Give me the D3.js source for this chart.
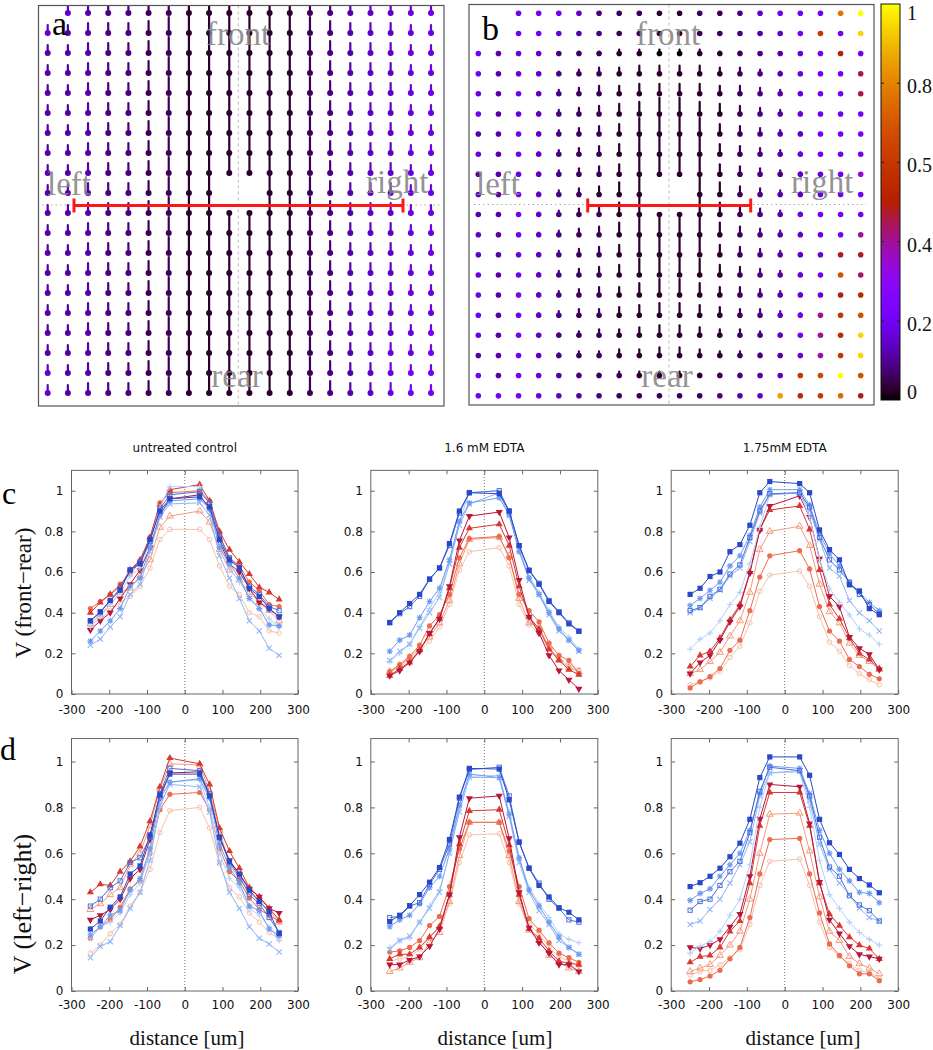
<!DOCTYPE html>
<html><head><meta charset="utf-8">
<script src="https://cdn.jsdelivr.net/npm/d3@7"></script>
<style>body{margin:0;background:#fff}svg{display:block}</style>
</head><body>
<svg id="fig" width="933" height="1050"></svg>
<script>
// ---------------- data ----------------
const xDist = [-250,-223.7,-197.4,-171.1,-144.7,-118.4,-92.1,-65.8,-39.5,39.5,65.8,92.1,118.4,144.7,171.1,197.4,223.7,250];
const xTicks = [-300,-200,-100,0,100,200,300];
const yTicks = [0,0.2,0.4,0.6,0.8,1];
const yTickLabels = ["0","0.2","0.4","0.6","0.8","1"];
const chartTitles = ["untreated control","1.6 mM EDTA","1.75mM EDTA"];
const rowLabels = ["V (front\u2212rear)","V (left\u2212right)"];
const seriesNames = ["B1","B2","B3","B4","B5","R1","R2","R3","R4","R5"];
const seriesColors = ["#2a48c8","#4a72dc","#6e9cf0","#8fb6f6","#b4cff9","#b8163a","#d93832","#ec6c50","#f29c80","#f6c2ae"];
const seriesMarkers = ["sqF","sqO","star","x","plus","triDF","triF","cirF","triO","cirO"];

const controlFR = [
 [0.36,0.405,0.46,0.51,0.61,0.64,0.76,0.90,0.96, 0.97,0.92,0.76,0.66,0.62,0.52,0.48,0.42,0.38],
 [0.36,0.40,0.46,0.52,0.61,0.65,0.75,0.91,0.98, 0.995,0.94,0.78,0.67,0.62,0.53,0.49,0.43,0.41],
 [0.26,0.31,0.36,0.42,0.53,0.57,0.72,0.88,0.95, 0.96,0.91,0.72,0.64,0.57,0.47,0.42,0.34,0.335],
 [0.24,0.27,0.33,0.38,0.49,0.54,0.70,0.87,0.935, 0.94,0.88,0.68,0.57,0.47,0.36,0.31,0.225,0.19],
 [0.33,0.38,0.44,0.50,0.58,0.62,0.75,0.92,1.02, 1.02,0.93,0.74,0.62,0.55,0.48,0.42,0.37,0.33],
 [0.315,0.36,0.40,0.47,0.54,0.61,0.72,0.88,0.96, 0.98,0.91,0.75,0.64,0.60,0.52,0.45,0.42,0.38],
 [0.40,0.45,0.49,0.53,0.61,0.66,0.77,0.93,1.005, 1.03,0.95,0.80,0.71,0.65,0.59,0.525,0.50,0.465],
 [0.42,0.455,0.49,0.54,0.59,0.65,0.77,0.94,0.99, 1.0,0.95,0.78,0.67,0.63,0.55,0.51,0.44,0.43],
 [0.345,0.39,0.44,0.50,0.52,0.58,0.66,0.82,0.875, 0.90,0.845,0.71,0.61,0.56,0.50,0.45,0.41,0.36],
 [0.34,0.37,0.41,0.45,0.48,0.53,0.62,0.76,0.81, 0.81,0.76,0.63,0.53,0.49,0.40,0.38,0.31,0.30]
];
const edta16FR = [
 [0.352,0.40,0.445,0.49,0.565,0.62,0.74,0.90,0.99, 0.985,0.90,0.73,0.607,0.54,0.455,0.40,0.345,0.308],
 [0.35,0.395,0.43,0.48,0.565,0.62,0.73,0.89,0.99, 1.0,0.90,0.73,0.61,0.545,0.46,0.405,0.35,0.31],
 [0.21,0.265,0.29,0.375,0.455,0.52,0.66,0.85,0.94, 0.965,0.88,0.70,0.57,0.49,0.40,0.32,0.265,0.215],
 [0.165,0.21,0.245,0.325,0.40,0.475,0.64,0.83,0.935, 0.99,0.88,0.71,0.56,0.49,0.39,0.31,0.265,0.21],
 [0.16,0.20,0.245,0.33,0.42,0.50,0.65,0.85,0.99, 1.0,0.90,0.72,0.58,0.50,0.41,0.33,0.28,0.22],
 [0.09,0.115,0.155,0.21,0.30,0.37,0.53,0.755,0.875, 0.895,0.77,0.56,0.38,0.30,0.19,0.115,0.07,0.025],
 [0.09,0.125,0.155,0.215,0.295,0.37,0.52,0.72,0.815, 0.835,0.73,0.53,0.38,0.32,0.22,0.165,0.12,0.095],
 [0.11,0.145,0.185,0.24,0.335,0.39,0.49,0.67,0.765, 0.775,0.67,0.49,0.41,0.355,0.25,0.19,0.165,0.10],
 [0.11,0.14,0.18,0.22,0.28,0.35,0.46,0.64,0.76, 0.77,0.68,0.47,0.35,0.33,0.23,0.17,0.13,0.11],
 [0.11,0.13,0.17,0.21,0.26,0.33,0.44,0.61,0.70, 0.72,0.63,0.44,0.34,0.30,0.22,0.18,0.14,0.12]
];
const edta175FR = [
 [0.49,0.52,0.578,0.60,0.70,0.735,0.83,0.99,1.045, 1.035,0.99,0.807,0.71,0.66,0.537,0.507,0.42,0.39],
 [0.41,0.425,0.48,0.515,0.59,0.635,0.77,0.90,0.985, 0.99,0.92,0.77,0.66,0.61,0.55,0.49,0.44,0.395],
 [0.435,0.47,0.51,0.55,0.63,0.68,0.78,0.92,1.005, 1.005,0.93,0.79,0.69,0.63,0.55,0.50,0.45,0.41],
 [0.40,0.425,0.47,0.51,0.58,0.62,0.75,0.89,0.98, 0.99,0.90,0.76,0.62,0.58,0.46,0.40,0.36,0.31],
 [0.22,0.27,0.30,0.36,0.44,0.50,0.64,0.82,0.98, 0.99,0.87,0.66,0.52,0.45,0.39,0.32,0.29,0.245],
 [0.10,0.155,0.19,0.265,0.355,0.43,0.595,0.805,0.925, 0.975,0.87,0.665,0.48,0.43,0.28,0.225,0.195,0.12],
 [0.135,0.19,0.21,0.275,0.365,0.44,0.60,0.81,0.905, 0.925,0.81,0.61,0.44,0.37,0.275,0.20,0.17,0.125],
 [0.03,0.06,0.085,0.125,0.215,0.265,0.41,0.575,0.68, 0.705,0.615,0.43,0.31,0.26,0.17,0.135,0.097,0.075],
 [0.10,0.12,0.16,0.205,0.285,0.36,0.50,0.71,0.80, 0.825,0.73,0.54,0.405,0.35,0.25,0.19,0.16,0.12],
 [0.045,0.06,0.08,0.11,0.18,0.235,0.35,0.505,0.585, 0.605,0.53,0.38,0.255,0.21,0.14,0.10,0.07,0.045]
];
const controlLR = [
 [0.27,0.305,0.365,0.41,0.51,0.545,0.68,0.855,0.945, 0.945,0.85,0.67,0.565,0.51,0.44,0.39,0.345,0.25],
 [0.37,0.40,0.45,0.48,0.56,0.58,0.67,0.86,0.97, 0.96,0.86,0.67,0.56,0.50,0.42,0.38,0.32,0.255],
 [0.245,0.28,0.33,0.35,0.44,0.49,0.62,0.84,0.91, 0.925,0.84,0.64,0.54,0.47,0.37,0.35,0.27,0.24],
 [0.145,0.195,0.215,0.285,0.36,0.43,0.57,0.81,0.90, 0.89,0.78,0.56,0.43,0.36,0.28,0.23,0.205,0.17],
 [0.23,0.28,0.30,0.34,0.42,0.47,0.60,0.80,0.91, 0.92,0.80,0.60,0.49,0.45,0.36,0.33,0.28,0.22],
 [0.31,0.33,0.355,0.40,0.49,0.53,0.66,0.84,0.95, 0.955,0.85,0.67,0.57,0.51,0.445,0.41,0.36,0.34],
 [0.43,0.465,0.46,0.52,0.565,0.63,0.74,0.89,1.015, 0.99,0.90,0.71,0.61,0.535,0.45,0.41,0.36,0.31],
 [0.23,0.28,0.31,0.365,0.445,0.48,0.60,0.79,0.857, 0.865,0.79,0.62,0.52,0.48,0.405,0.355,0.33,0.305],
 [0.355,0.38,0.42,0.45,0.55,0.60,0.72,0.88,0.99, 0.985,0.87,0.70,0.55,0.49,0.43,0.39,0.35,0.30],
 [0.165,0.20,0.25,0.29,0.37,0.43,0.53,0.69,0.786, 0.80,0.71,0.555,0.45,0.41,0.34,0.30,0.255,0.225]
];
const edta16LR = [
 [0.302,0.33,0.372,0.42,0.474,0.538,0.66,0.845,0.97, 0.967,0.833,0.648,0.535,0.46,0.41,0.363,0.343,0.31],
 [0.32,0.325,0.37,0.385,0.465,0.53,0.64,0.84,0.965, 0.975,0.85,0.65,0.535,0.47,0.40,0.36,0.31,0.30],
 [0.28,0.31,0.33,0.38,0.45,0.50,0.62,0.81,0.945, 0.93,0.77,0.58,0.44,0.37,0.30,0.235,0.19,0.16],
 [0.18,0.22,0.24,0.30,0.36,0.43,0.60,0.78,0.93, 0.93,0.76,0.56,0.43,0.35,0.29,0.22,0.19,0.16],
 [0.19,0.22,0.23,0.30,0.37,0.44,0.60,0.80,0.935, 0.94,0.78,0.58,0.45,0.38,0.32,0.25,0.225,0.21],
 [0.115,0.115,0.135,0.15,0.195,0.27,0.42,0.67,0.84, 0.85,0.665,0.43,0.275,0.21,0.165,0.115,0.115,0.085],
 [0.14,0.16,0.16,0.19,0.235,0.28,0.42,0.64,0.785, 0.79,0.635,0.42,0.27,0.23,0.175,0.13,0.12,0.115],
 [0.17,0.175,0.19,0.22,0.285,0.325,0.455,0.62,0.735, 0.735,0.61,0.455,0.315,0.265,0.21,0.165,0.145,0.125],
 [0.085,0.10,0.125,0.145,0.21,0.255,0.39,0.59,0.735, 0.735,0.59,0.39,0.265,0.22,0.155,0.125,0.10,0.085],
 [0.13,0.14,0.15,0.18,0.23,0.28,0.38,0.56,0.68, 0.685,0.56,0.38,0.29,0.25,0.19,0.15,0.13,0.11]
];
const edta175LR = [
 [0.455,0.472,0.50,0.535,0.585,0.644,0.748,0.93,1.02, 1.02,0.94,0.748,0.646,0.595,0.53,0.49,0.462,0.428],
 [0.352,0.39,0.40,0.46,0.52,0.565,0.69,0.87,0.975, 0.96,0.85,0.67,0.54,0.50,0.415,0.375,0.35,0.305],
 [0.395,0.425,0.445,0.50,0.55,0.60,0.70,0.86,0.98, 0.97,0.86,0.70,0.60,0.53,0.48,0.43,0.425,0.385],
 [0.29,0.305,0.355,0.40,0.47,0.55,0.65,0.85,0.95, 0.96,0.83,0.64,0.53,0.47,0.42,0.36,0.32,0.305],
 [0.165,0.195,0.215,0.26,0.33,0.40,0.55,0.80,0.95, 0.955,0.80,0.57,0.42,0.36,0.30,0.255,0.225,0.20],
 [0.19,0.185,0.20,0.225,0.28,0.335,0.50,0.75,0.90, 0.89,0.73,0.475,0.31,0.25,0.195,0.16,0.15,0.14],
 [0.125,0.15,0.155,0.19,0.26,0.305,0.47,0.72,0.865, 0.865,0.72,0.47,0.335,0.285,0.235,0.20,0.185,0.14],
 [0.04,0.05,0.065,0.09,0.14,0.19,0.32,0.51,0.66, 0.665,0.51,0.34,0.205,0.155,0.11,0.075,0.075,0.045],
 [0.085,0.10,0.115,0.155,0.20,0.26,0.40,0.60,0.77, 0.775,0.61,0.41,0.26,0.22,0.15,0.12,0.10,0.075],
 [0.07,0.085,0.09,0.115,0.145,0.18,0.29,0.46,0.565, 0.575,0.46,0.30,0.19,0.15,0.12,0.09,0.08,0.055]
];

// vector-field grids: colour code (base36 / 35 = colour value), stem code (base36 * 2 px); '-' = no vector
const fieldAColor = [
 "-5433221111112345566","54433221111112345566","44433221111112345566","44433221111112345566",
 "44433221111112345566","44433221111112345566","44433221111112345566","44433221111112345566",
 "44433221111112345566","444332211--112345566","44433221111112345566","44433221111112345566",
 "44433221111112345566","44433221111112345566","44433221111112345566","44433221111112345566",
 "44433221111112345567","44433221111112345667","54433221111112345677","54433221111112345677"
];
const fieldALen = [
 "14444444444444444444","4455568aaaaaa8655544","4455568aaaaaa8655544","4455568aaaaaa8655544",
 "4455568aaaaaa8655544","4455568aaaaaa8655544","4455568aaaaaa8655544","4455568aaaaaa8655544",
 "4455568aaaaaa8655544","4455568aa--aa8655544","4455568aa00aa8655544","4455568aaaaaa8655544",
 "4455568aaaaaa8655544","4455568aaaaaa8655544","4455568aaaaaa8655544","4455568aaaaaa8655544",
 "4455568aaaaaa8655544","4455568aaaaaa8655544","4455568aaaaaa8655544","4455568aaaaaa8655544"
];
const fieldBColor = [
 "--7775322112235777rz","--776432211223457l7x","746532211001123467i7","7465322111111234677g",
 "6475322111111234677g","74653221111112346778","44753221111112345778","64753221111112346777",
 "4465322111111233567c","547532111--112345677","44753221111112346777","5475322111111234567e",
 "546532211111123456hh","647532211111123467of","647532211111123466hj","74753221111112357elo",
 "64753221111112357ejx","44753221111112346dlx","7476432211112345lnzo","777654322222345ujlqh"
];
const fieldBLen = [
 "00000000000000000000","00000000000000000000","00000112222211000000","00001233444433210000",
 "00012344555544321000","00012345688654321000","000123458aa854321000","000123459aa954321000",
 "00012345aaaa54321000","00012346a--a64321000","00012346a00a64321000","00012346aaaa64321000",
 "00012345aaaa54321000","000123458aa854321000","00012344688644321000","00012334566543321000",
 "00001233455433210000","00001223344322100000","00000112222111000000","00000000000000000000"
];
const colorbarTicks = [0,0.2,0.4,0.6,0.8,1];
const colorbarLabels = ["0","0.2","0.4","0.5","0.8","1"];

// ---------------- drawing ----------------
const svg = d3.select("#fig");
svg.append("rect").attr("width",933).attr("height",1050).attr("fill","#fff");
const defs = svg.append("defs");
const SERIF = "'Liberation Serif','Times New Roman',serif";
const SANS = "'DejaVu Sans',sans-serif";

// gnuplot default palette (rgbformulae 7,5,15)
function pal(v){
  v = Math.max(0, Math.min(1, v));
  return d3.rgb(Math.sqrt(v)*255, v*v*v*255, Math.max(0, Math.sin(2*Math.PI*v))*255).formatHex();
}
const colorScale = d3.scaleSequential(pal).domain([0,1]);

function vectorPanel(cfg){
  const clipId = cfg.id + "clip";
  defs.append("clipPath").attr("id", clipId).append("rect")
    .attr("x", cfg.frame[0]).attr("y", cfg.frame[1]).attr("width", cfg.frame[2]-cfg.frame[0]).attr("height", cfg.frame[3]-cfg.frame[1]);
  const g = svg.append("g");
  const gx = d3.scaleLinear().domain([0,19]).range(cfg.xr);
  const gy = d3.scaleLinear().domain([0,19]).range(cfg.yr);
  g.append("line").attr("x1", cfg.hline[0]).attr("x2", cfg.hline[1]).attr("y1", cfg.hy).attr("y2", cfg.hy)
    .attr("stroke","#aaa").attr("stroke-width",1).attr("stroke-dasharray","1.5,3");
  g.append("line").attr("x1", cfg.vx).attr("x2", cfg.vx).attr("y1", cfg.frame[1]).attr("y2", cfg.frame[3])
    .attr("stroke","#bbb").attr("stroke-width",1).attr("stroke-dasharray","3,3");
  const cells = [];
  cfg.colors.forEach((row, j) => {
    for (let i = 0; i < 20; i++) {
      const c = row.charAt(i);
      if (!c || c === "-") continue;
      const lc = (cfg.lens[j] || "").charAt(i);
      const L = (lc && lc !== "-") ? parseInt(lc, 36) * 2 : 0;
      cells.push({i, j, v: parseInt(c, 36) / 35, L});
    }
  });
  const vg = g.append("g").attr("clip-path", `url(#${clipId})`);
  vg.selectAll("line.stem").data(cells.filter(d => d.L > 0)).join("line")
    .attr("x1", d => gx(d.i)).attr("x2", d => gx(d.i))
    .attr("y1", d => gy(d.j) - d.L).attr("y2", d => gy(d.j))
    .attr("stroke", d => colorScale(d.v)).attr("stroke-width", 2.2).attr("stroke-linecap","round");
  vg.selectAll("circle").data(cells).join("circle")
    .attr("cx", d => gx(d.i)).attr("cy", d => gy(d.j)).attr("r", cfg.r)
    .attr("fill", d => colorScale(d.v));
  const rb = g.append("g").attr("stroke","#ff1616").attr("stroke-width",3);
  rb.append("line").attr("x1", cfg.bar[0]).attr("x2", cfg.bar[1]).attr("y1", cfg.barY).attr("y2", cfg.barY);
  rb.append("line").attr("x1", cfg.bar[0]).attr("x2", cfg.bar[0]).attr("y1", cfg.barY-7).attr("y2", cfg.barY+7);
  rb.append("line").attr("x1", cfg.bar[1]).attr("x2", cfg.bar[1]).attr("y1", cfg.barY-7).attr("y2", cfg.barY+7);
  const t = g.append("g").attr("font-family", SERIF).attr("font-size", 33).attr("fill", "#858585").attr("fill-opacity", 0.9);
  t.append("text").attr("x", cfg.front[0]).attr("y", cfg.front[1]).attr("text-anchor","middle").text("front");
  t.append("text").attr("x", cfg.rear[0]).attr("y", cfg.rear[1]).attr("text-anchor","middle").text("rear");
  t.append("text").attr("x", cfg.left[0]).attr("y", cfg.left[1]).text("left");
  t.append("text").attr("x", cfg.right[0]).attr("y", cfg.right[1]).text("right");
  g.append("text").attr("x", cfg.letter[0]).attr("y", cfg.letter[1]).attr("font-family", SERIF)
    .attr("font-size", 34).attr("fill","#000").text(cfg.id);
  g.append("rect").attr("x", cfg.frame[0]).attr("y", cfg.frame[1])
    .attr("width", cfg.frame[2]-cfg.frame[0]).attr("height", cfg.frame[3]-cfg.frame[1])
    .attr("fill","none").attr("stroke","#555").attr("stroke-width",1.2);
}

vectorPanel({id:"a", frame:[38.5,5.5,444,406], xr:[47.7,431], yr:[13,393], r:3,
  colors: fieldAColor, lens: fieldALen, hline:[42,441], hy:205, vx:238.3,
  bar:[74,403], barY:205.5, front:[238,45], rear:[237,387], left:[47,195], right:[366,193], letter:[52,35]});
vectorPanel({id:"b", frame:[469,4.5,874,405], xr:[478.3,860.7], yr:[13.3,395.7], r:2.8,
  colors: fieldBColor, lens: fieldBLen, hline:[474,866], hy:204.5, vx:669,
  bar:[587.7,750.7], barY:205.5, front:[668,45], rear:[667,387], left:[476,195], right:[791,193], letter:[482,40]});

// colour bar
(function(){
  const grad = defs.append("linearGradient").attr("id","cbgrad").attr("x1",0).attr("y1",1).attr("x2",0).attr("y2",0);
  d3.range(0, 1.0001, 0.02).forEach(v => grad.append("stop").attr("offset", v).attr("stop-color", colorScale(v)));
  const cy = d3.scaleLinear().domain([0,1]).range([400,4]);
  const x0 = 881, x1 = 900;
  svg.append("rect").attr("x",x0).attr("y",cy(1)).attr("width",x1-x0).attr("height",cy(0)-cy(1))
    .attr("fill","url(#cbgrad)").attr("stroke","#111").attr("stroke-width",1);
  const tg = svg.append("g");
  colorbarTicks.forEach((v,k) => {
    if (k > 0 && k < colorbarTicks.length-1) {
      tg.append("line").attr("x1",x0).attr("x2",x0+3).attr("y1",cy(v)).attr("y2",cy(v)).attr("stroke","#222");
      tg.append("line").attr("x1",x1-3).attr("x2",x1).attr("y1",cy(v)).attr("y2",cy(v)).attr("stroke","#222");
    }
    tg.append("text").attr("x",907).attr("y", Math.max(13, Math.min(392, cy(v)+3)))
      .attr("dominant-baseline","central").attr("font-family",SERIF).attr("font-size",20).attr("fill","#111")
      .text(colorbarLabels[k]);
  });
})();

function drawMarker(g, type, cx, cy, color){
  const s = 2.6;
  switch(type){
    case "sqF": g.append("rect").attr("x",cx-s).attr("y",cy-s).attr("width",2*s).attr("height",2*s).attr("fill",color); break;
    case "sqO": g.append("rect").attr("x",cx-s+0.5).attr("y",cy-s+0.5).attr("width",2*s-1).attr("height",2*s-1).attr("fill","none").attr("stroke",color); break;
    case "cirF": g.append("circle").attr("cx",cx).attr("cy",cy).attr("r",2.6).attr("fill",color); break;
    case "cirO": g.append("circle").attr("cx",cx).attr("cy",cy).attr("r",2.3).attr("fill","none").attr("stroke",color); break;
    case "triF": g.append("path").attr("d",d3.symbol(d3.symbolTriangle,22)()).attr("transform",`translate(${cx},${cy})`).attr("fill",color); break;
    case "triDF": g.append("path").attr("d",d3.symbol(d3.symbolTriangle,22)()).attr("transform",`translate(${cx},${cy}) rotate(180)`).attr("fill",color); break;
    case "triO": g.append("path").attr("d",d3.symbol(d3.symbolTriangle,20)()).attr("transform",`translate(${cx},${cy})`).attr("fill","none").attr("stroke",color); break;
    case "plus": g.append("path").attr("d",`M${cx-3},${cy}H${cx+3}M${cx},${cy-3}V${cy+3}`).attr("stroke",color).attr("stroke-width",1.1); break;
    case "x": g.append("path").attr("d",`M${cx-2.6},${cy-2.6}L${cx+2.6},${cy+2.6}M${cx-2.6},${cy+2.6}L${cx+2.6},${cy-2.6}`).attr("stroke",color).attr("stroke-width",1.1); break;
    case "star": g.append("path").attr("d",`M${cx-3},${cy}H${cx+3}M${cx},${cy-3}V${cy+3}M${cx-2.2},${cy-2.2}L${cx+2.2},${cy+2.2}M${cx-2.2},${cy+2.2}L${cx+2.2},${cy-2.2}`).attr("stroke",color).attr("stroke-width",1.1); break;
  }
}

function lineChart(cfg){
  const x = d3.scaleLinear().domain([-300,300]).range([cfg.left, cfg.right]);
  const y = d3.scaleLinear().domain([0,1.1]).range([cfg.y0, cfg.yTop]);
  const g = svg.append("g");
  g.append("line").attr("x1",x(0)).attr("x2",x(0)).attr("y1",y(0)).attr("y2",y(1.1))
    .attr("stroke","#777").attr("stroke-width",1).attr("stroke-dasharray","1,2");
  const tickCol = "#666";
  const ax = [
    g.append("g").attr("transform",`translate(0,${y(0)})`).call(d3.axisBottom(x).tickValues(xTicks).tickSizeInner(-4).tickSizeOuter(0).tickPadding(cfg.xPad).tickFormat(d => String(d))),
    g.append("g").attr("transform",`translate(0,${y(1.1)})`).call(d3.axisTop(x).tickValues(xTicks.slice(1,-1)).tickSizeInner(-4).tickSizeOuter(0).tickFormat("")),
    g.append("g").attr("transform",`translate(${cfg.left},0)`).call(d3.axisLeft(y).tickValues(yTicks).tickSizeInner(-4).tickSizeOuter(0).tickPadding(8).tickFormat((d,i) => yTickLabels[i])),
    g.append("g").attr("transform",`translate(${cfg.right},0)`).call(d3.axisRight(y).tickValues(yTicks).tickSizeInner(-4).tickSizeOuter(0).tickFormat(""))
  ];
  ax.forEach(a => {
    a.select(".domain").remove();
    a.selectAll("line").attr("stroke", tickCol);
    a.selectAll("text").attr("font-family", SANS).attr("font-size", 12).attr("fill","#111");
  });
  g.append("rect").attr("x",cfg.left).attr("y",y(1.1)).attr("width",cfg.right-cfg.left).attr("height",y(0)-y(1.1))
    .attr("fill","none").attr("stroke",tickCol).attr("stroke-width",1);
  const line = d3.line().x((d,i) => x(xDist[i])).y(d => y(d));
  const order = [9,8,7,6,5,4,3,2,1,0];
  order.forEach(s => {
    const vals = cfg.data[s];
    g.append("path").datum(vals).attr("d", line).attr("fill","none")
      .attr("stroke", seriesColors[s]).attr("stroke-width", 1);
    const mg = g.append("g").attr("class","m-" + seriesNames[s]);
    vals.forEach((v,i) => drawMarker(mg, seriesMarkers[s], x(xDist[i]), y(v), seriesColors[s]));
  });
  if (cfg.title) g.append("text").attr("x", x(0)).attr("y", 452).attr("text-anchor","middle")
    .attr("font-family",SANS).attr("font-size",12).attr("fill","#111").text(cfg.title);
  if (cfg.xlabel) g.append("text").attr("x", cfg.xlabelX).attr("y", 1045).attr("text-anchor","middle")
    .attr("font-family",SERIF).attr("font-size",21).attr("fill","#111").text("distance [um]");
}

const cols = [{left:71.5,right:298},{left:370.8,right:597.8},{left:671.2,right:898.2}];
const rowC = {y0:694, yTop:694-1.1*203.3, xPad:11};
const rowD = {y0:991, yTop:991-1.1*229.5, xPad:9.5};
const dataC = [controlFR, edta16FR, edta175FR];
const dataD = [controlLR, edta16LR, edta175LR];
const xlabelXs = [187, 495, 803];
cols.forEach((c,k) => {
  lineChart(Object.assign({}, c, rowC, {data:dataC[k], title:chartTitles[k]}));
  lineChart(Object.assign({}, c, rowD, {data:dataD[k], xlabel:true, xlabelX:xlabelXs[k]}));
});

svg.append("text").attr("transform","translate(23,593) rotate(-90)").attr("text-anchor","middle")
  .attr("dominant-baseline","central").attr("font-family",SERIF).attr("font-size",23).attr("fill","#111").text(rowLabels[0]);
svg.append("text").attr("transform","translate(22,904) rotate(-90)").attr("text-anchor","middle")
  .attr("dominant-baseline","central").attr("font-family",SERIF).attr("font-size",26).attr("fill","#111").text(rowLabels[1]);
svg.append("text").attr("x",2).attr("y",504).attr("font-family",SERIF).attr("font-size",32).attr("fill","#000").text("c");
svg.append("text").attr("x",0).attr("y",760).attr("font-family",SERIF).attr("font-size",32).attr("fill","#000").text("d");
</script>
</body></html>
